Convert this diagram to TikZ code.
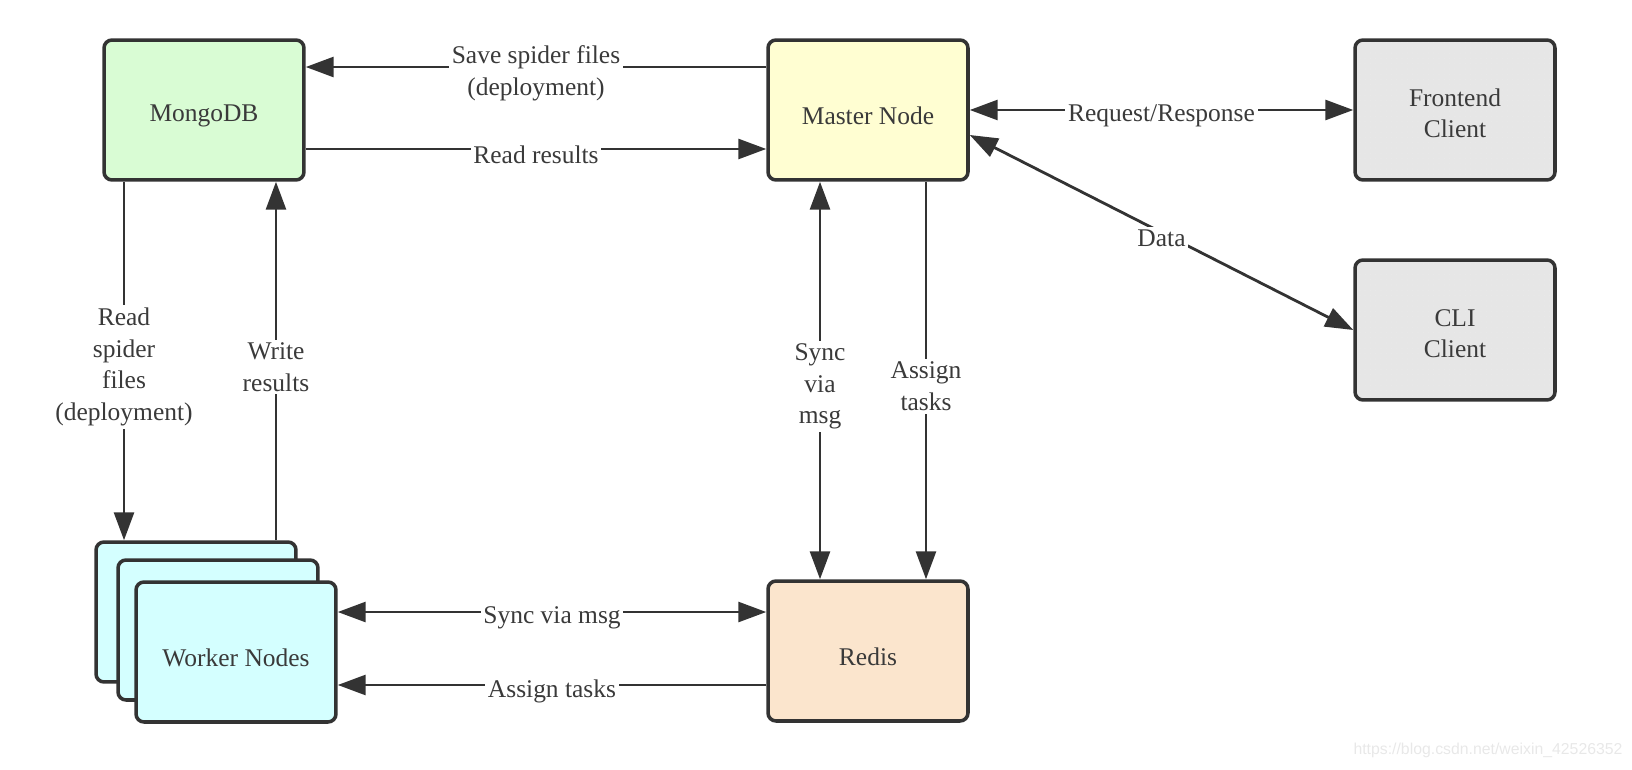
\documentclass[tikz,border=0pt]{standalone}
\usepackage{fontspec}
\setmainfont{Liberation Serif}
\newfontfamily\wmfont{Liberation Sans}
\usetikzlibrary{arrows.meta, patterns}
\definecolor{linegray}{HTML}{333333}
\definecolor{txtgray}{HTML}{3A3A3A}
\definecolor{mongofill}{HTML}{D9FCD4}
\definecolor{masterfill}{HTML}{FFFED2}
\definecolor{clientfill}{HTML}{E6E6E6}
\definecolor{workerfill}{HTML}{D4FFFF}
\definecolor{redisfill}{HTML}{FBE5CD}
\begin{document}
\begin{tikzpicture}[
    x=0.02cm, y=-0.02cm,
    >={Triangle[length=5.6mm, width=4mm]},
    box/.style={rectangle, rounded corners=1.6mm, draw=linegray, line width=2pt,
                minimum width=4cm, minimum height=2.8cm, align=center,
                text height=16.7pt, text=txtgray,
                font=\fontsize{14.5}{18}\selectfont},
    mongo/.style={box, fill=mongofill},
    master/.style={box, fill=masterfill},
    client/.style={box, text height=32pt, preaction={fill=clientfill},
                   pattern=dots, pattern color=black!9},
    worker/.style={box, fill=workerfill},
    redis/.style={box, fill=redisfill},
    link/.style={line width=1.6pt, draw=linegray},
    lbl/.style={fill=white, inner sep=1.5pt, align=center, text=txtgray,
                yshift=-0.12cm, font=\fontsize{14.5}{18}\selectfont},
]
\useasboundingbox (0,0) rectangle (1632,770);
% top row
\node[mongo] (mongo) at (204,110) {MongoDB};
\node[master] (master) at (868,110) {Master Node};
\node[client] (front) at (1455,110) {Frontend\\Client};
\node[client] (cli) at (1455,330) {CLI\\Client};
% bottom row: a stack of workers and redis
\node[worker] (wback) at (196,612) {};
\node[worker] (wmid) at (218,630) {};
\node[worker] (worker) at (236,652) {Worker Nodes};
\node[redis] (redis) at (868,651) {Redis};
% master <-> mongo
\draw[link, ->] ([yshift=0.86cm]master.west) -- ([yshift=0.86cm]mongo.east)
   node[lbl, midway] {Save spider files\\(deployment)};
\draw[link, ->] ([yshift=-0.78cm]mongo.east) -- ([yshift=-0.78cm]master.west)
   node[lbl, midway] {Read results};
% master <-> clients
\draw[link, <->] (master.east) -- (front.west)
   node[lbl, midway] {Request/Response};
\draw[link, <->] ([yshift=-0.5cm]master.east) -- (cli.west)
   node[lbl, midway] {Data};
% mongo <-> workers
\draw[link, ->] ([xshift=-1.6cm]mongo.south) -- ([xshift=-1.6cm]mongo.south |- wback.north)
   node[lbl, midway] {Read\\spider\\files\\(deployment)};
\draw[link, ->] ([xshift=1.44cm]mongo.south |- wback.north) -- ([xshift=1.44cm]mongo.south)
   node[lbl, midway] {Write\\results};
% master <-> redis
\draw[link, <->] ([xshift=-0.96cm]master.south) -- ([xshift=-0.96cm]redis.north)
   node[lbl, midway] {Sync\\via\\msg};
\draw[link, ->] ([xshift=1.16cm]master.south) -- ([xshift=1.16cm]redis.north)
   node[lbl, midway] {Assign\\tasks};
% redis <-> workers
\draw[link, <->] ([yshift=0.8cm]worker.east) -- ([yshift=0.8cm]worker.east -| redis.west)
   node[lbl, midway] {Sync via msg};
\draw[link, ->] ([yshift=-0.68cm]redis.west) -- ([yshift=-0.68cm]redis.west -| worker.east)
   node[lbl, midway] {Assign tasks};
% faint watermark
\node[text=black!9, font=\wmfont\fontsize{9}{11}\selectfont] (wm) at (1488,750)
   {https://blog.csdn.net/weixin\_42526352};
\end{tikzpicture}
\end{document}
